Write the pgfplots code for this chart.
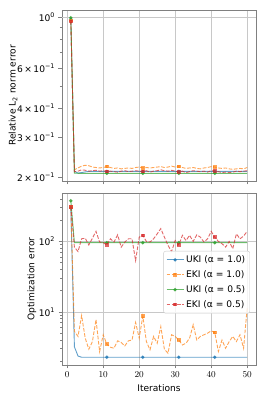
\documentclass[border=0pt]{standalone}
\usepackage{fontspec}
\setmainfont{DejaVu Sans}
\usepackage{pgfplots}
\pgfplotsset{compat=1.18}
\usepackage{pgfplotstable}

\definecolor{tblue}{HTML}{1F77B4}
\definecolor{torange}{HTML}{FF7F0E}
\definecolor{tgreen}{HTML}{2CA02C}
\definecolor{tred}{HTML}{D62728}
\definecolor{framegray}{HTML}{808080}
\definecolor{gridgray}{HTML}{C8C8C8}

\pgfplotstableread{
it uki1 eki1 uki05 eki05
1 0.980 0.970 0.995 0.960
2 0.213 0.216 0.209 0.212
3 0.209 0.220 0.2085 0.213
4 0.210 0.224 0.2085 0.216
5 0.2115 0.226 0.2085 0.215
6 0.2125 0.225 0.2085 0.213
7 0.2125 0.222 0.2085 0.214
8 0.2125 0.221 0.2085 0.215
9 0.2125 0.220 0.2085 0.213
10 0.2125 0.221 0.2085 0.214
11 0.2125 0.223 0.2085 0.212
12 0.2125 0.221 0.2085 0.213
13 0.2125 0.219 0.2085 0.212
14 0.2125 0.220 0.2085 0.211
15 0.2125 0.218 0.2085 0.213
16 0.2125 0.219 0.2085 0.214
17 0.2125 0.220 0.2085 0.212
18 0.2125 0.219 0.2085 0.213
19 0.2125 0.221 0.2085 0.214
20 0.2125 0.222 0.2085 0.213
21 0.2125 0.220 0.2085 0.212
22 0.2125 0.221 0.2085 0.214
23 0.2125 0.220 0.2085 0.211
24 0.2125 0.221 0.2085 0.213
25 0.2125 0.222 0.2085 0.214
26 0.2125 0.223 0.2085 0.216
27 0.2125 0.221 0.2085 0.214
28 0.2125 0.222 0.2085 0.213
29 0.2125 0.224 0.2085 0.215
30 0.2125 0.222 0.2085 0.213
31 0.2125 0.223 0.2085 0.211
32 0.2125 0.221 0.2085 0.213
33 0.2125 0.219 0.2085 0.210
34 0.2125 0.220 0.2085 0.212
35 0.2125 0.221 0.2085 0.214
36 0.2125 0.219 0.2085 0.213
37 0.2125 0.218 0.2085 0.212
38 0.2125 0.220 0.2085 0.213
39 0.2125 0.221 0.2085 0.211
40 0.2125 0.223 0.2085 0.214
41 0.2125 0.222 0.2085 0.213
42 0.2125 0.220 0.2085 0.212
43 0.2125 0.219 0.2085 0.210
44 0.2125 0.220 0.2085 0.211
45 0.2125 0.218 0.2085 0.210
46 0.2125 0.217 0.2085 0.211
47 0.2125 0.218 0.2085 0.213
48 0.2125 0.219 0.2085 0.212
49 0.2125 0.218 0.2085 0.213
50 0.2125 0.221 0.2085 0.214
}\toptable

\pgfplotstableread{
it uki1 eki1 uki05 eki05
1 300 306 377 309
2 3.2 5.3 96 83
3 2.37 4.5 96 72
4 2.28 8.9 96 109
5 2.28 4.25 96 111
6 2.28 2.96 96 89
7 2.28 3.8 96 111
8 2.28 7.8 96 139
9 2.28 2.74 96 98
10 2.28 4.75 96 96
11 2.28 3.5 96 89
12 2.28 3.16 96 109
13 2.28 3.06 96 98
14 2.28 3.9 96 124
15 2.28 3.7 96 83
16 2.28 3.3 96 98
17 2.28 3.9 96 109
18 2.28 4.0 96 109
19 2.28 7.1 96 53.5
20 2.28 4.25 96 115
21 2.28 8.7 96 122
22 2.28 3.8 96 100
23 2.28 2.9 96 98
24 2.28 4.5 96 109
25 2.28 3.6 96 128
26 2.28 6.2 96 152
27 2.28 2.96 96 115
28 2.28 2.6 96 88
29 2.28 4.75 96 72
30 2.28 4.5 96 103
31 2.28 4.0 96 89
32 2.28 3.4 96 122
33 2.28 3.6 96 103
34 2.28 4.25 96 122
35 2.28 6.6 96 100
36 2.28 4.0 96 124
37 2.28 4.5 96 115
38 2.28 4.75 96 98
39 2.28 5.0 96 109
40 2.28 5.4 96 139
41 2.28 5.1 96 115
42 2.28 2.75 96 100
43 2.28 4.0 96 93
44 2.28 3.06 96 83
45 2.28 3.8 96 100
46 2.28 4.5 96 79
47 2.28 3.8 96 128
48 2.28 4.75 96 109
49 2.28 3.06 96 119
50 2.28 11.4 96 139
}\bottable

\pgfplotsset{
  every axis/.append style={
    scale only axis,
    width=194pt,
    xmin=-1.45, xmax=52.45,
    xtick={0,10,20,30,40,50},
    xmajorgrids,
    grid style={gridgray, line width=0.8pt},
    axis line style={framegray, line width=0.8pt},
    tick style={framegray, line width=0.8pt},
    tick align=outside,
    minor tick length=2pt,
    xtick pos=bottom, ytick pos=left,
    tick label style={font=\fontsize{9.1}{11}\selectfont, black},
    label style={font=\fontsize{9.1}{11}\selectfont},
  },
  every axis plot/.append style={line width=0.9pt, opacity=0.7, mark repeat=10, mark phase=1},
  ukiA/.style={tblue, solid, mark=*, mark size=1.3pt, mark options={solid}},
  ekiA/.style={torange, dash pattern=on 3.7pt off 1.6pt, mark=square*, mark size=1.3pt, mark options={solid}},
  ukiB/.style={tgreen, solid, mark=*, mark size=1.3pt, mark options={solid}},
  ekiB/.style={tred, dash pattern=on 3.7pt off 1.6pt, mark=square*, mark size=1.3pt, mark options={solid}},
}

\begin{document}
\begin{tikzpicture}
\path[use as bounding box] (0,0) rectangle (266pt,399pt);

\begin{axis}[
  ymode=log,
  at={(62pt,218pt)}, anchor=south west,
  height=171pt,
  ymin=0.193, ymax=1.076,
  major tick length=3.5pt,
  xticklabels={},
  ytick={0.2,0.3,0.4,0.6,1},
  yticklabels={2\,×\,10\textsuperscript{−1},3\,×\,10\textsuperscript{−1},4\,×\,10\textsuperscript{−1},6\,×\,10\textsuperscript{−1},10\textsuperscript{0}},
  minor ytick={0.5,0.7,0.8,0.9},
  extra y ticks={1},
  extra y tick labels={},
  extra y tick style={grid=major},
  ylabel={Relative L\textsubscript{2} norm error},
  ylabel style={at={(axis description cs:-0.2526,0.5)}, anchor=center},
]
\addplot[ukiA] table[x=it, y=uki1] {\toptable};
\addplot[ekiA] table[x=it, y=eki1] {\toptable};
\addplot[ukiB] table[x=it, y=uki05] {\toptable};
\addplot[ekiB] table[x=it, y=eki05] {\toptable};
\end{axis}

\begin{axis}[
  ymode=log,
  at={(62pt,34pt)}, anchor=south west,
  height=172pt,
  ymin=1.77, ymax=486,
  major tick length=3.5pt,
  ytick={10,100},
  yticklabels={10\textsuperscript{1},10\textsuperscript{2}},
  minor ytick={2,3,4,5,6,7,8,9,20,30,40,50,60,70,80,90,200,300,400},
  ymajorgrids,
  ylabel={Optimization error},
  ylabel style={at={(axis description cs:-0.155,0.5)}, anchor=center},
  xlabel={Iterations},
  legend style={at={(0.969,0.663)}, anchor=north east,
    font=\fontsize{9.1}{11}\selectfont,
    draw=gridgray, rounded corners=2pt, fill=white, fill opacity=0.8, text opacity=1,
    row sep=2.5pt, inner sep=2.5pt},
  legend cell align=left,
]
\addplot[ukiA] table[x=it, y=uki1] {\bottable};
\addlegendentry{UKI (α = 1.0)}
\addplot[ekiA] table[x=it, y=eki1] {\bottable};
\addlegendentry{EKI (α = 1.0)}
\addplot[ukiB] table[x=it, y=uki05] {\bottable};
\addlegendentry{UKI (α = 0.5)}
\addplot[ekiB] table[x=it, y=eki05] {\bottable};
\addlegendentry{EKI (α = 0.5)}
\end{axis}
\end{tikzpicture}
\end{document}
